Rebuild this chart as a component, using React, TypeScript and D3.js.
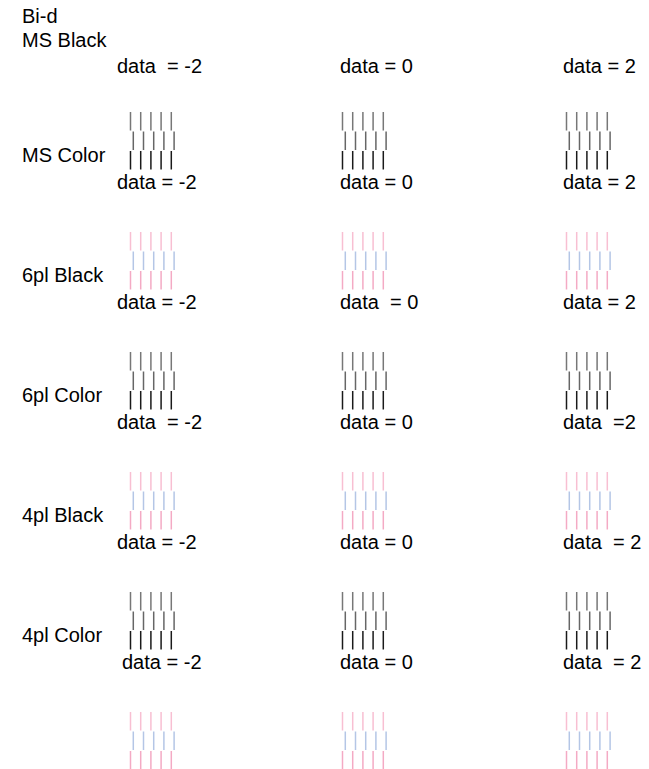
import React from "react";
import * as d3 from "d3";

const W = 649;
const H = 769;

// Column settings (data values)
const columnValues = [-2, 0, 2];
// Header titles
const headerLines = ["Bi-d", "MS Black"];
// Labels under each header / pattern block, per row then per column
const dataLabels: string[][] = [
  ["data  = -2", "data = 0", "data = 2"],
  ["data = -2", "data = 0", "data = 2"],
  ["data = -2", "data  = 0", "data = 2"],
  ["data  = -2", "data = 0", "data  =2"],
  ["data = -2", "data = 0", "data  = 2"],
  ["data = -2", "data = 0", "data  = 2"],
];
// Side labels for each pattern block
const blockLabels = ["MS Color", "6pl Black", "6pl Color", "4pl Black", "4pl Color", ""];
// Pattern type for each block
const blockKinds = ["black", "color", "black", "color", "black", "color"];
// number of lines per row
const lineIndex = [0, 1, 2, 3, 4];
const rowIndex = [0, 1, 2];

const FONT = "'Liberation Sans', Arial, Helvetica, sans-serif";

const colX = d3.scaleOrdinal<number, number>().domain(columnValues).range([130, 342, 566]);
const labelX = d3.scaleOrdinal<number, number>().domain(columnValues).range([117, 340, 563]);
const blockY = d3.scaleLinear().domain([0, 1]).range([111.5, 231.5]);
const lineX = d3.scaleLinear().domain([0, 1]).range([0, 10.2]);
const rowY = d3.scaleLinear().domain([0, 1]).range([0, 19.5]);

const blackColors = ["#777", "#666", "#1a1a1a"];
const colorColors = ["#f8bfd2", "#b4c6e6", "#f4aac4"];

export default function App() {
  return (
    <svg
      width={W}
      height={H}
      style={{ position: "absolute", left: 0, top: 0, background: "#fff" }}
      fontFamily={FONT}
      fontSize={20}
    >
      <rect width={W} height={H} fill="#fff" />
      <text x={22} y={23}>{headerLines[0]}</text>
      <text x={22} y={46.5}>{headerLines[1]}</text>
      {dataLabels[0].map((t, ci) => (
        <text key={ci} x={labelX(columnValues[ci])} y={73} style={{ whiteSpace: "pre" }}>
          {t}
        </text>
      ))}
      {blockKinds.map((kind, bi) => {
        const T = blockY(bi);
        const colors = kind === "black" ? blackColors : colorColors;
        return (
          <g key={bi}>
            {blockLabels[bi] && (
              <text x={22} y={T + 50}>{blockLabels[bi]}</text>
            )}
            {columnValues.map((v, ci) => (
              <g key={ci} transform={`translate(${colX(v)},${T})`}>
                {rowIndex.map((r) =>
                  lineIndex.map((li) => {
                    const x = lineX(li) + (r === 1 ? 2.8 : 0) + 0.5;
                    return (
                      <line
                        key={`${r}-${li}`}
                        x1={x}
                        x2={x}
                        y1={rowY(r) + 0.5}
                        y2={rowY(r) + 19}
                        stroke={colors[r]}
                        strokeWidth={1.5}
                      />
                    );
                  })
                )}
              </g>
            ))}
            {bi + 1 < dataLabels.length &&
              dataLabels[bi + 1].map((t, ci) => (
                <text
                  key={ci}
                  x={labelX(columnValues[ci]) + (bi === 4 && ci === 0 ? 5 : 0)}
                  y={T + 77}
                  style={{ whiteSpace: "pre" }}
                >
                  {t}
                </text>
              ))}
          </g>
        );
      })}
    </svg>
  );
}
